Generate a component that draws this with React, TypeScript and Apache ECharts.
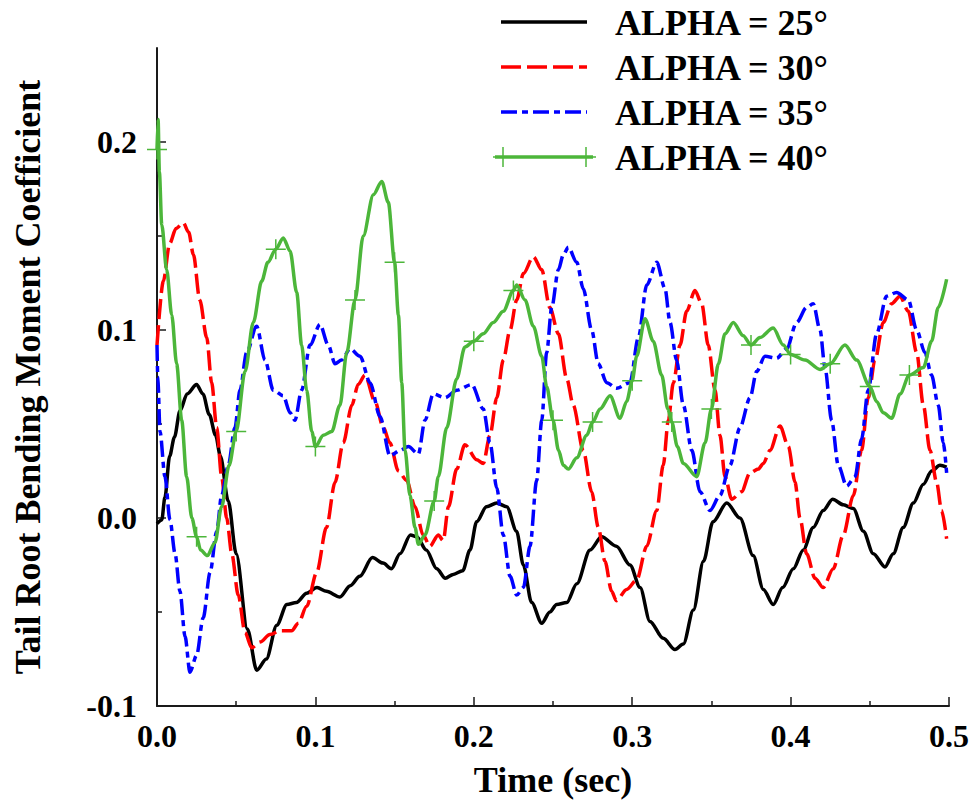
import React, { useEffect, useRef } from "react";
import * as echarts from "echarts";

// ALPHA = 25°
const time25 = [0, 0.003, 0.005, 0.008, 0.011, 0.0145, 0.019, 0.025, 0.029, 0.033, 0.037, 0.04, 0.045, 0.05, 0.057, 0.063, 0.069, 0.0756, 0.082, 0.088, 0.0945, 0.101, 0.107, 0.1155, 0.122, 0.128, 0.136, 0.1427, 0.148, 0.1534, 0.16, 0.164, 0.17, 0.1766, 0.182, 0.187, 0.193, 0.1976, 0.2018, 0.208, 0.2145, 0.2208, 0.227, 0.2313, 0.2365, 0.2429, 0.248, 0.2523, 0.2587, 0.265, 0.2734, 0.2807, 0.29, 0.2986, 0.305, 0.3112, 0.3196, 0.327, 0.3323, 0.3386, 0.345, 0.351, 0.3597, 0.368, 0.3764, 0.3828, 0.389, 0.395, 0.4017, 0.408, 0.4143, 0.4206, 0.4265, 0.4333, 0.4396, 0.4459, 0.4522, 0.4596, 0.4648, 0.4711, 0.4775, 0.4838, 0.489, 0.4943, 0.4985];
const coef25 = [-0.003, -0.001, 0.011, 0.033, 0.043, 0.057, 0.066, 0.071, 0.066, 0.055, 0.044, 0.033, 0.009, -0.019, -0.059, -0.081, -0.075, -0.057, -0.046, -0.045, -0.04, -0.037, -0.039, -0.042, -0.036, -0.031, -0.021, -0.024, -0.027, -0.019, -0.009, -0.01, -0.017, -0.027, -0.032, -0.03, -0.028, -0.017, -0.002, 0.006, 0.008, 0.006, -0.007, -0.025, -0.045, -0.056, -0.05, -0.046, -0.045, -0.035, -0.017, -0.01, -0.015, -0.025, -0.037, -0.055, -0.064, -0.07, -0.067, -0.049, -0.023, -0.002, 0.008, 0.0, -0.02, -0.038, -0.046, -0.037, -0.027, -0.017, -0.005, 0.004, 0.01, 0.007, 0.005, -0.007, -0.019, -0.026, -0.019, -0.005, 0.008, 0.018, 0.025, 0.028, 0.027];

// ALPHA = 30°
const time30 = [0, 0.004, 0.008, 0.012, 0.0166, 0.02, 0.023, 0.027, 0.0314, 0.0345, 0.0377, 0.0408, 0.044, 0.0472, 0.0513, 0.0556, 0.0598, 0.065, 0.0713, 0.0777, 0.085, 0.0892, 0.0945, 0.1008, 0.107, 0.1124, 0.1176, 0.123, 0.127, 0.1313, 0.1376, 0.1429, 0.147, 0.1524, 0.1576, 0.1629, 0.168, 0.1723, 0.1776, 0.1807, 0.184, 0.1892, 0.1944, 0.2018, 0.206, 0.2102, 0.2145, 0.2186, 0.2229, 0.2271, 0.2313, 0.2376, 0.2429, 0.248, 0.2534, 0.2587, 0.2628, 0.2691, 0.2744, 0.2786, 0.2828, 0.287, 0.29, 0.2965, 0.3028, 0.3092, 0.3155, 0.3196, 0.3228, 0.326, 0.3302, 0.3344, 0.3396, 0.3439, 0.348, 0.3523, 0.3554, 0.3586, 0.3628, 0.369, 0.3744, 0.3796, 0.3828, 0.387, 0.3933, 0.3986, 0.4028, 0.4059, 0.4101, 0.4154, 0.4206, 0.4269, 0.4333, 0.4396, 0.4448, 0.449, 0.4533, 0.4585, 0.4638, 0.4691, 0.4743, 0.4796, 0.4838, 0.488, 0.4922, 0.4953, 0.4985];
const coef30 = [0.092, 0.126, 0.146, 0.154, 0.157, 0.152, 0.14, 0.116, 0.096, 0.072, 0.048, 0.022, 0.0, -0.019, -0.041, -0.061, -0.069, -0.066, -0.062, -0.06, -0.06, -0.056, -0.047, -0.029, -0.005, 0.019, 0.04, 0.06, 0.071, 0.076, 0.062, 0.048, 0.04, 0.025, 0.02, 0.006, -0.009, -0.015, -0.009, -0.012, 0.006, 0.026, 0.039, 0.031, 0.029, 0.044, 0.064, 0.084, 0.1, 0.116, 0.13, 0.139, 0.132, 0.112, 0.098, 0.074, 0.06, 0.036, 0.014, -0.005, -0.023, -0.039, -0.044, -0.038, -0.033, -0.015, 0.004, 0.028, 0.052, 0.072, 0.092, 0.11, 0.121, 0.114, 0.092, 0.068, 0.044, 0.022, 0.01, 0.014, 0.024, 0.026, 0.029, 0.036, 0.049, 0.038, 0.019, 0.0, -0.019, -0.032, -0.037, -0.027, -0.009, 0.012, 0.036, 0.064, 0.084, 0.104, 0.114, 0.118, 0.11, 0.088, 0.06, 0.036, 0.019, 0.004, -0.011];

// ALPHA = 35°
const time35 = [0, 0.0005, 0.0019, 0.005, 0.0082, 0.0114, 0.0145, 0.0177, 0.0208, 0.025, 0.0292, 0.0335, 0.0377, 0.0408, 0.045, 0.0492, 0.0524, 0.0566, 0.0629, 0.0682, 0.0734, 0.0797, 0.084, 0.0871, 0.0913, 0.0966, 0.1029, 0.1081, 0.1124, 0.1166, 0.1218, 0.1282, 0.1345, 0.1408, 0.1471, 0.1534, 0.1587, 0.165, 0.1692, 0.1744, 0.1818, 0.1892, 0.1987, 0.206, 0.2102, 0.2145, 0.2186, 0.2229, 0.2271, 0.2313, 0.2355, 0.2397, 0.2429, 0.246, 0.2492, 0.2534, 0.2565, 0.2597, 0.265, 0.2691, 0.2744, 0.2786, 0.2839, 0.29, 0.2986, 0.3039, 0.3092, 0.3155, 0.3207, 0.3239, 0.328, 0.3323, 0.3376, 0.3428, 0.3491, 0.3554, 0.3617, 0.368, 0.3744, 0.3786, 0.3838, 0.3912, 0.3975, 0.4038, 0.4101, 0.4143, 0.4186, 0.4217, 0.4259, 0.4301, 0.4354, 0.4407, 0.4448, 0.449, 0.4543, 0.4606, 0.4669, 0.4743, 0.4796, 0.4848, 0.489, 0.4932, 0.4964, 0.4985];
const coef35 = [0.092, 0.075, 0.046, 0.022, -0.001, -0.019, -0.039, -0.063, -0.082, -0.073, -0.053, -0.029, -0.007, 0.012, 0.028, 0.048, 0.068, 0.088, 0.102, 0.084, 0.068, 0.065, 0.056, 0.052, 0.068, 0.092, 0.103, 0.092, 0.082, 0.084, 0.09, 0.086, 0.072, 0.054, 0.033, 0.036, 0.038, 0.034, 0.052, 0.066, 0.064, 0.068, 0.071, 0.058, 0.04, 0.016, -0.009, -0.031, -0.041, -0.037, -0.015, 0.02, 0.052, 0.088, 0.112, 0.132, 0.14, 0.144, 0.136, 0.122, 0.1, 0.082, 0.072, 0.069, 0.072, 0.096, 0.124, 0.136, 0.122, 0.104, 0.084, 0.06, 0.036, 0.014, 0.004, 0.012, 0.028, 0.048, 0.064, 0.078, 0.086, 0.085, 0.09, 0.104, 0.112, 0.114, 0.1, 0.08, 0.052, 0.028, 0.017, 0.022, 0.042, 0.068, 0.098, 0.118, 0.12, 0.116, 0.1, 0.088, 0.076, 0.06, 0.04, 0.024];

// ALPHA = 40°
const time40 = [0, 0.0007, 0.0015, 0.003, 0.0061, 0.0093, 0.0124, 0.0156, 0.0187, 0.022, 0.025, 0.0275, 0.0318, 0.0366, 0.0408, 0.0455, 0.05, 0.0556, 0.0608, 0.0661, 0.07, 0.075, 0.0797, 0.084, 0.0882, 0.0913, 0.0945, 0.0977, 0.1, 0.105, 0.1103, 0.1155, 0.1198, 0.125, 0.1302, 0.1366, 0.1419, 0.146, 0.15, 0.1524, 0.1545, 0.1566, 0.1597, 0.1629, 0.165, 0.1692, 0.175, 0.1776, 0.1829, 0.1892, 0.1944, 0.2, 0.206, 0.2123, 0.2186, 0.225, 0.2271, 0.2323, 0.2376, 0.2429, 0.246, 0.25, 0.2535, 0.2565, 0.2597, 0.265, 0.2713, 0.275, 0.2797, 0.286, 0.2923, 0.2965, 0.3, 0.3028, 0.3081, 0.3133, 0.3186, 0.3225, 0.325, 0.3285, 0.3323, 0.3407, 0.346, 0.35, 0.3544, 0.3586, 0.3638, 0.3701, 0.375, 0.3807, 0.389, 0.3954, 0.4, 0.4091, 0.4186, 0.425, 0.4343, 0.4417, 0.45, 0.4543, 0.4585, 0.4638, 0.4691, 0.475, 0.4838, 0.489, 0.4932, 0.4985];
const coef40 = [0.196, 0.212, 0.184, 0.156, 0.132, 0.108, 0.082, 0.052, 0.022, 0.0, -0.01, -0.017, -0.02, -0.013, 0.006, 0.028, 0.046, 0.078, 0.104, 0.126, 0.136, 0.143, 0.149, 0.142, 0.12, 0.092, 0.068, 0.046, 0.038, 0.044, 0.046, 0.06, 0.088, 0.116, 0.15, 0.172, 0.179, 0.168, 0.136, 0.108, 0.072, 0.036, 0.012, -0.005, -0.014, -0.009, 0.009, 0.022, 0.048, 0.074, 0.091, 0.094, 0.098, 0.104, 0.11, 0.121, 0.124, 0.116, 0.102, 0.086, 0.07, 0.052, 0.036, 0.028, 0.026, 0.032, 0.044, 0.051, 0.058, 0.065, 0.053, 0.062, 0.073, 0.086, 0.106, 0.094, 0.076, 0.058, 0.051, 0.038, 0.029, 0.022, 0.04, 0.058, 0.082, 0.098, 0.104, 0.097, 0.092, 0.096, 0.101, 0.092, 0.087, 0.084, 0.079, 0.082, 0.092, 0.084, 0.07, 0.062, 0.056, 0.053, 0.066, 0.076, 0.08, 0.094, 0.112, 0.127];

const seriesNames = ["ALPHA = 25°", "ALPHA = 30°", "ALPHA = 35°", "ALPHA = 40°"];
const xTickLabels = [0, 0.1, 0.2, 0.3, 0.4, 0.5];
const yTickLabels = [-0.1, 0, 0.1, 0.2];
const yMinorTicks = [-0.05, 0.05, 0.15];
const markerStep40 = 0.025;

const FONT = '"Liberation Serif", "Times New Roman", serif';
const GREEN = "#4cb63a";
const AXIS = "#1a1a1a";
const PLUS = "path://M0,9.25H20V10.75H0Z M9.25,0H10.75V20H9.25Z";
const LW = 3.5;

const zip = (t: number[], v: number[]) => t.map((x, i) => [x, v[i]]);

export default function App() {
  const ref = useRef<HTMLDivElement>(null);
  useEffect(() => {
    if (!ref.current) return;
    const chart = echarts.init(ref.current, null, { renderer: "svg" });
    const labelStyle = { fontFamily: FONT, fontWeight: "bold" as const, fontSize: 32, color: "#000" };
    const nameStyle = { fontFamily: FONT, fontWeight: "bold" as const, fontSize: 36, color: "#000" };
    const isMarker = (t: number) => Math.abs(t / markerStep40 - Math.round(t / markerStep40)) < 1e-6;

    const legendRows = [22, 67, 112, 157];
    const legendGraphics: any[] = [];
    const lx1 = 501, lx2 = 587;
    legendGraphics.push({ type: "line", shape: { x1: lx1, y1: legendRows[0], x2: lx2, y2: legendRows[0] }, style: { stroke: "#000", lineWidth: LW } });
    legendGraphics.push({ type: "line", shape: { x1: lx1, y1: legendRows[1], x2: lx2, y2: legendRows[1] }, style: { stroke: "#ff0000", lineWidth: LW, lineDash: [20, 6] } });
    legendGraphics.push({ type: "line", shape: { x1: lx1, y1: legendRows[2], x2: lx2, y2: legendRows[2] }, style: { stroke: "#0000ff", lineWidth: LW, lineDash: [16, 5, 6, 5] } });
    legendGraphics.push({ type: "line", shape: { x1: lx1 - 6, y1: legendRows[3], x2: lx2 + 6, y2: legendRows[3] }, style: { stroke: GREEN, lineWidth: LW } });
    [lx1 + 2, lx2 - 1].forEach((cx) => {
      legendGraphics.push({ type: "line", shape: { x1: cx - 10, y1: legendRows[3], x2: cx + 10, y2: legendRows[3] }, style: { stroke: GREEN, lineWidth: 1.5 } });
      legendGraphics.push({ type: "line", shape: { x1: cx, y1: legendRows[3] - 10, x2: cx, y2: legendRows[3] + 10 }, style: { stroke: GREEN, lineWidth: 1.5 } });
    });
    seriesNames.forEach((n, i) => {
      legendGraphics.push({
        type: "text",
        x: 615,
        y: legendRows[i] + 1,
        style: { text: n, font: `bold 36px ${FONT}`, fill: "#000", verticalAlign: "middle", align: "left" },
      });
    });

    chart.setOption({
      animation: false,
      backgroundColor: "#fff",
      grid: { left: 157, right: 21, top: 48, bottom: 94, containLabel: false, outerBoundsMode: "none" },
      xAxis: {
        type: "value",
        min: 0,
        max: 0.5,
        interval: 0.1,
        name: "Time (sec)",
        nameLocation: "middle",
        nameGap: 56,
        nameTextStyle: nameStyle,
        axisLine: { show: true, onZero: false, lineStyle: { color: AXIS, width: 2 } },
        axisTick: { show: true, inside: true, length: 9, lineStyle: { color: AXIS, width: 1.5 } },
        minorTick: { show: true, splitNumber: 2, length: 5, lineStyle: { color: AXIS, width: 1.5 } },
        axisLabel: { ...labelStyle, margin: 14, customValues: xTickLabels, formatter: (v: number) => v.toFixed(1) },
        splitLine: { show: false },
        minorSplitLine: { show: false },
      },
      yAxis: [
        {
          type: "value",
          position: "left",
          min: -0.1,
          max: 0.25,
          interval: 0.1,
          name: "Tail Root Bending Moment Coefficient",
          nameLocation: "middle",
          nameRotate: 90,
          nameGap: 111,
          nameTextStyle: nameStyle,
          axisLine: { show: true, onZero: false, lineStyle: { color: AXIS, width: 2 } },
          axisTick: { show: true, inside: true, length: 9, customValues: yTickLabels, lineStyle: { color: AXIS, width: 1.5 } },
          axisLabel: { ...labelStyle, margin: 20, customValues: yTickLabels, formatter: (v: number) => v.toFixed(1) },
          splitLine: { show: false },
        },
        {
          type: "value",
          position: "left",
          min: -0.1,
          max: 0.25,
          interval: 0.05,
          axisLine: { show: false },
          axisTick: { show: true, inside: true, length: 5, customValues: yMinorTicks, lineStyle: { color: AXIS, width: 1.5 } },
          axisLabel: { show: false },
          splitLine: { show: false },
        },
      ],
      series: [
        {
          name: seriesNames[0], type: "line", data: zip(time25, coef25), showSymbol: false, smooth: 0.3, smoothMonotone: "x",
          lineStyle: { color: "#000", width: LW }, itemStyle: { color: "#000" }, silent: true,
        },
        {
          name: seriesNames[1], type: "line", data: zip(time30, coef30), showSymbol: false, smooth: 0.3, smoothMonotone: "x",
          lineStyle: { color: "#ff0000", width: LW, type: [20, 6] }, itemStyle: { color: "#ff0000" }, silent: true,
        },
        {
          name: seriesNames[2], type: "line", data: zip(time35, coef35), showSymbol: false, smooth: 0.3, smoothMonotone: "x",
          lineStyle: { color: "#0000ff", width: LW, type: [16, 5, 6, 5] }, itemStyle: { color: "#0000ff" }, silent: true,
        },
        {
          name: seriesNames[3], type: "line", data: zip(time40, coef40), showSymbol: true, smooth: 0.3, smoothMonotone: "x",
          symbol: (value: number[]) => (isMarker(value[0]) ? PLUS : "none"),
          symbolSize: [20, 20],
          lineStyle: { color: GREEN, width: LW }, itemStyle: { color: GREEN }, silent: true,
        },
      ],
      graphic: legendGraphics,
    });
    return () => chart.dispose();
  }, []);
  return <div ref={ref} style={{ position: "fixed", left: 0, top: 0, width: 970, height: 800 }} />;
}
